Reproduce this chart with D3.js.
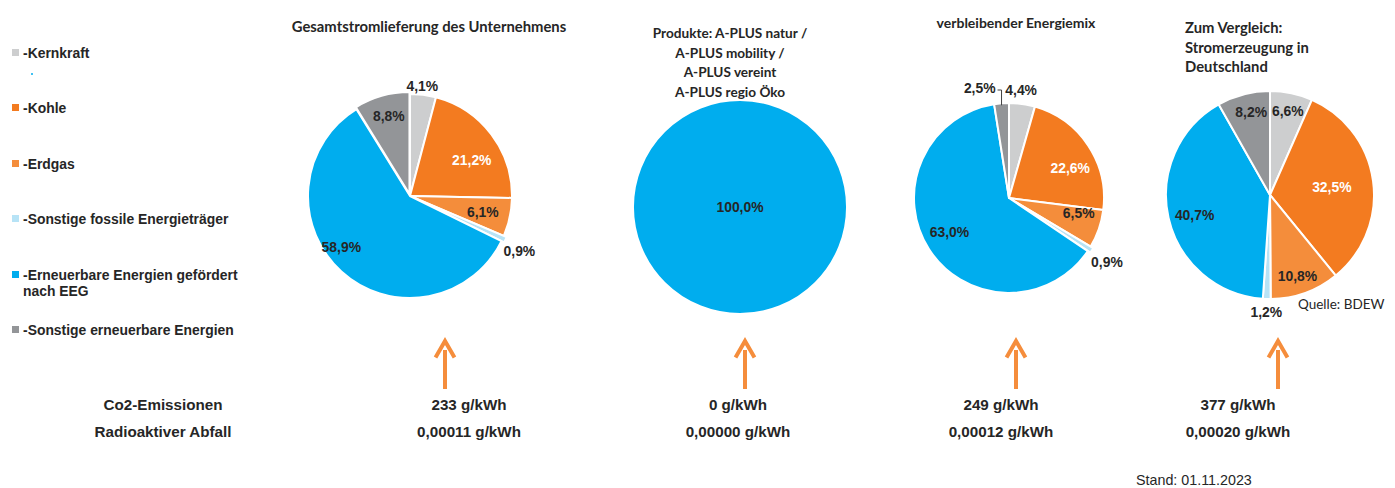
<!DOCTYPE html>
<html><head><meta charset="utf-8">
<script src="https://cdn.jsdelivr.net/npm/d3@7"></script>
<style>
html,body{margin:0;padding:0;background:#fff;}
svg{display:block;}
</style></head>
<body>
<svg id="chart" width="1395" height="488"></svg>
<script>
// ---------- DATA ----------
const categories = ["-Kernkraft", "-Kohle", "-Erdgas", "-Sonstige fossile Energieträger", "-Erneuerbare Energien gefördert nach EEG", "-Sonstige erneuerbare Energien"];
const chartTitles = [
  ["Gesamtstromlieferung des Unternehmens"],
  ["Produkte: A-PLUS natur /", "A-PLUS mobility /", "A-PLUS vereint", "A-PLUS regio Öko"],
  ["verbleibender Energiemix"],
  ["Zum Vergleich:", "Stromerzeugung in", "Deutschland"]
];
const gesamtValues = [4.1, 21.2, 6.1, 0.9, 58.9, 8.8];
const produkteValues = [0, 0, 0, 0, 100.0, 0];
const restmixValues = [4.4, 22.6, 6.5, 0.9, 63.0, 2.5];
const deutschlandValues = [6.6, 32.5, 10.8, 1.2, 40.7, 8.2];
const co2Values = [233, 0, 249, 377];          // g/kWh
const abfallValues = [0.00011, 0.00000, 0.00012, 0.00020]; // g/kWh
const rowLabels = ["Co2-Emissionen", "Radioaktiver Abfall"];
const sourceNote = "Quelle: BDEW";
const dateNote = "Stand: 01.11.2023";

// ---------- STYLE / LAYOUT ----------
const colors = ["#cdcecf", "#f37b20", "#f48d3b", "#b7e3f6", "#00adee", "#939598"];
const labelColors = ["#262626", "#ffffff", "#262626", "#262626", "#262626", "#262626"];
// per pie: center, radius, label [radiusFactor, angleShiftDeg] per slice (null = no inline label), explode px
const pies = [
  {values: gesamtValues, cx: 410, cy: 196, r: 102,
   lab: [[1.09,-1],[0.70,7],[0.73,0],[1.2,2],[0.84,11],[0.81,1]],
   explode: [0,0,0,3,0,2]},
  {values: produkteValues, cx: 740, cy: 207, r: 107,
   lab: [null,null,null,null,[0,0],null],
   explode: [0,0,0,0,0,0]},
  {values: restmixValues, cx: 1009, cy: 198, r: 95,
   lab: [[1.14,-1.5],[0.72,7],[0.75,-7],[1.23,0.7],[0.72,3],null],
   explode: [0,0,0,3,0,0]},
  {values: deutschlandValues, cx: 1270, cy: 195, r: 104,
   lab: [[0.83,0],[0.6,0],[0.82,1],[1.13,0],[0.75,-2],[0.82,2]],
   explode: [0,0,0,0,0,0]}
];
const arrowX = [445, 745, 1016, 1278];
const valueX = [469, 738, 1001, 1238];

const de = d3.formatLocale({decimal: ",", thousands: ".", grouping: [3], currency: ["", "€"]});
const pct = v => de.format(".1f")(v) + "%";
const f5 = de.format(".5f");

const svg = d3.select("#chart");
const labFont = "'Liberation Sans', Arial, sans-serif";
const titleFont = "Lato, 'Open Sans', sans-serif";
const pieLabelSize = 13.9;

// ---------- LEGEND ----------
const legendY = [53, 108, 164, 219, 275, 330];
const lg = svg.append("g");
categories.forEach((c, i) => {
  lg.append("rect").attr("x", 12).attr("y", legendY[i] - 4).attr("width", 7).attr("height", 7).attr("fill", colors[i]);
  const t = lg.append("text").attr("x", 23).attr("y", legendY[i] + 5)
    .attr("font-family", labFont).attr("font-weight", "bold").attr("font-size", 13.9).attr("fill", "#262626");
  if (i === 4) {
    t.append("tspan").attr("x", 23).text("-Erneuerbare Energien gefördert");
    t.append("tspan").attr("x", 23).attr("dy", 16).text("nach EEG");
  } else t.text(c);
});
lg.append("circle").attr("cx", 32).attr("cy", 74).attr("r", 1).attr("fill", "#00adee");

// ---------- PIES ----------
const pieGen = d3.pie().sort(null).value(d => d);
pies.forEach((p, pi) => {
  const g = svg.append("g").attr("transform", `translate(${p.cx},${p.cy})`);
  const arcs = pieGen(p.values);
  const arc = d3.arc().innerRadius(0).outerRadius(p.r);
  arcs.forEach((a, i) => {
    if (a.value <= 0) return;
    const mid = (a.startAngle + a.endAngle) / 2;
    const ex = p.explode[i];
    g.append("path").attr("d", arc(a))
      .attr("transform", `translate(${ex * Math.sin(mid)},${-ex * Math.cos(mid)})`)
      .attr("fill", colors[i]).attr("stroke", "#fff").attr("stroke-width", 2).attr("stroke-linejoin", "round");
  });
  arcs.forEach((a, i) => {
    if (a.value <= 0 || !p.lab[i]) return;
    let x = 0, y = 0;
    if (a.value < 100) {
      const [rf, sh] = p.lab[i];
      const mid = (a.startAngle + a.endAngle) / 2 + sh * Math.PI / 180;
      x = rf * p.r * Math.sin(mid); y = -rf * p.r * Math.cos(mid);
    }
    g.append("text").attr("x", x).attr("y", y).attr("dy", "0.36em")
      .attr("text-anchor", "middle").attr("font-family", labFont).attr("font-weight", "bold")
      .attr("font-size", pieLabelSize).attr("fill", labelColors[i]).text(pct(a.value));
  });
  // leader label for small "Sonstige erneuerbare" slice in remaining mix
  if (pi === 2) {
    const a = arcs[5];
    const mid = (a.startAngle + a.endAngle) / 2;
    const ex = p.r * Math.sin(mid), ey = -p.r * Math.cos(mid);
    g.append("path").attr("d", `M${ex},${ey + 2} L${ex},${-108} L${ex - 4},${-108}`)
      .attr("fill", "none").attr("stroke", "#404040").attr("stroke-width", 1);
    g.append("text").attr("x", ex - 6).attr("y", -110).attr("dy", "0.36em")
      .attr("text-anchor", "end").attr("font-family", labFont).attr("font-weight", "bold")
      .attr("font-size", pieLabelSize).attr("fill", "#262626").text(pct(a.value));
  }
});

// ---------- TITLES ----------
const titleCfg = [
  {x: 429, y: 32, anchor: "middle", lh: 20, size: 14.8},
  {x: 730, y: 38, anchor: "middle", lh: 19.7, size: 13.6},
  {x: 1016, y: 28, anchor: "middle", lh: 20, size: 14},
  {x: 1185, y: 33, anchor: "start", lh: 19.5, size: 14.8}
];
chartTitles.forEach((lines, i) => {
  const c = titleCfg[i];
  const t = svg.append("text").attr("font-family", titleFont).attr("font-weight", "bold")
    .attr("font-size", c.size).attr("fill", "#262626").attr("text-anchor", c.anchor);
  lines.forEach((l, k) => t.append("tspan").attr("x", c.x).attr("y", c.y + k * c.lh).text(l));
});
svg.append("text").attr("x", 1298).attr("y", 309).attr("font-family", titleFont)
  .attr("font-size", 13.5).attr("fill", "#262626").text(sourceNote);

// ---------- ARROWS ----------
const arrowColor = "#f58d3c";
arrowX.forEach(x => {
  svg.append("line").attr("x1", x).attr("x2", x).attr("y1", 389).attr("y2", 350)
    .attr("stroke", arrowColor).attr("stroke-width", 4);
  svg.append("path").attr("d", `M${x - 9.5},${357.5} L${x},${341} L${x + 9.5},${357.5}`)
    .attr("fill", "none").attr("stroke", arrowColor).attr("stroke-width", 4).attr("stroke-linejoin", "miter");
});

// ---------- BOTTOM ROWS ----------
const rowY = [410, 437];
const bSize = 15.2;
rowLabels.forEach((l, k) => {
  svg.append("text").attr("x", 163).attr("y", rowY[k]).attr("text-anchor", "middle")
    .attr("font-family", labFont).attr("font-weight", "bold").attr("font-size", bSize).attr("fill", "#262626").text(l);
});
co2Values.forEach((v, i) => {
  svg.append("text").attr("x", valueX[i]).attr("y", rowY[0]).attr("text-anchor", "middle")
    .attr("font-family", labFont).attr("font-weight", "bold").attr("font-size", bSize).attr("fill", "#262626")
    .text(v + " g/kWh");
  svg.append("text").attr("x", valueX[i]).attr("y", rowY[1]).attr("text-anchor", "middle")
    .attr("font-family", labFont).attr("font-weight", "bold").attr("font-size", bSize).attr("fill", "#262626")
    .text(f5(abfallValues[i]) + " g/kWh");
});
svg.append("text").attr("x", 1136).attr("y", 488).attr("font-family", labFont)
  .attr("font-size", 14.3).attr("fill", "#262626").attr("dy", "-0.2em").text(dateNote);
</script>
</body></html>
